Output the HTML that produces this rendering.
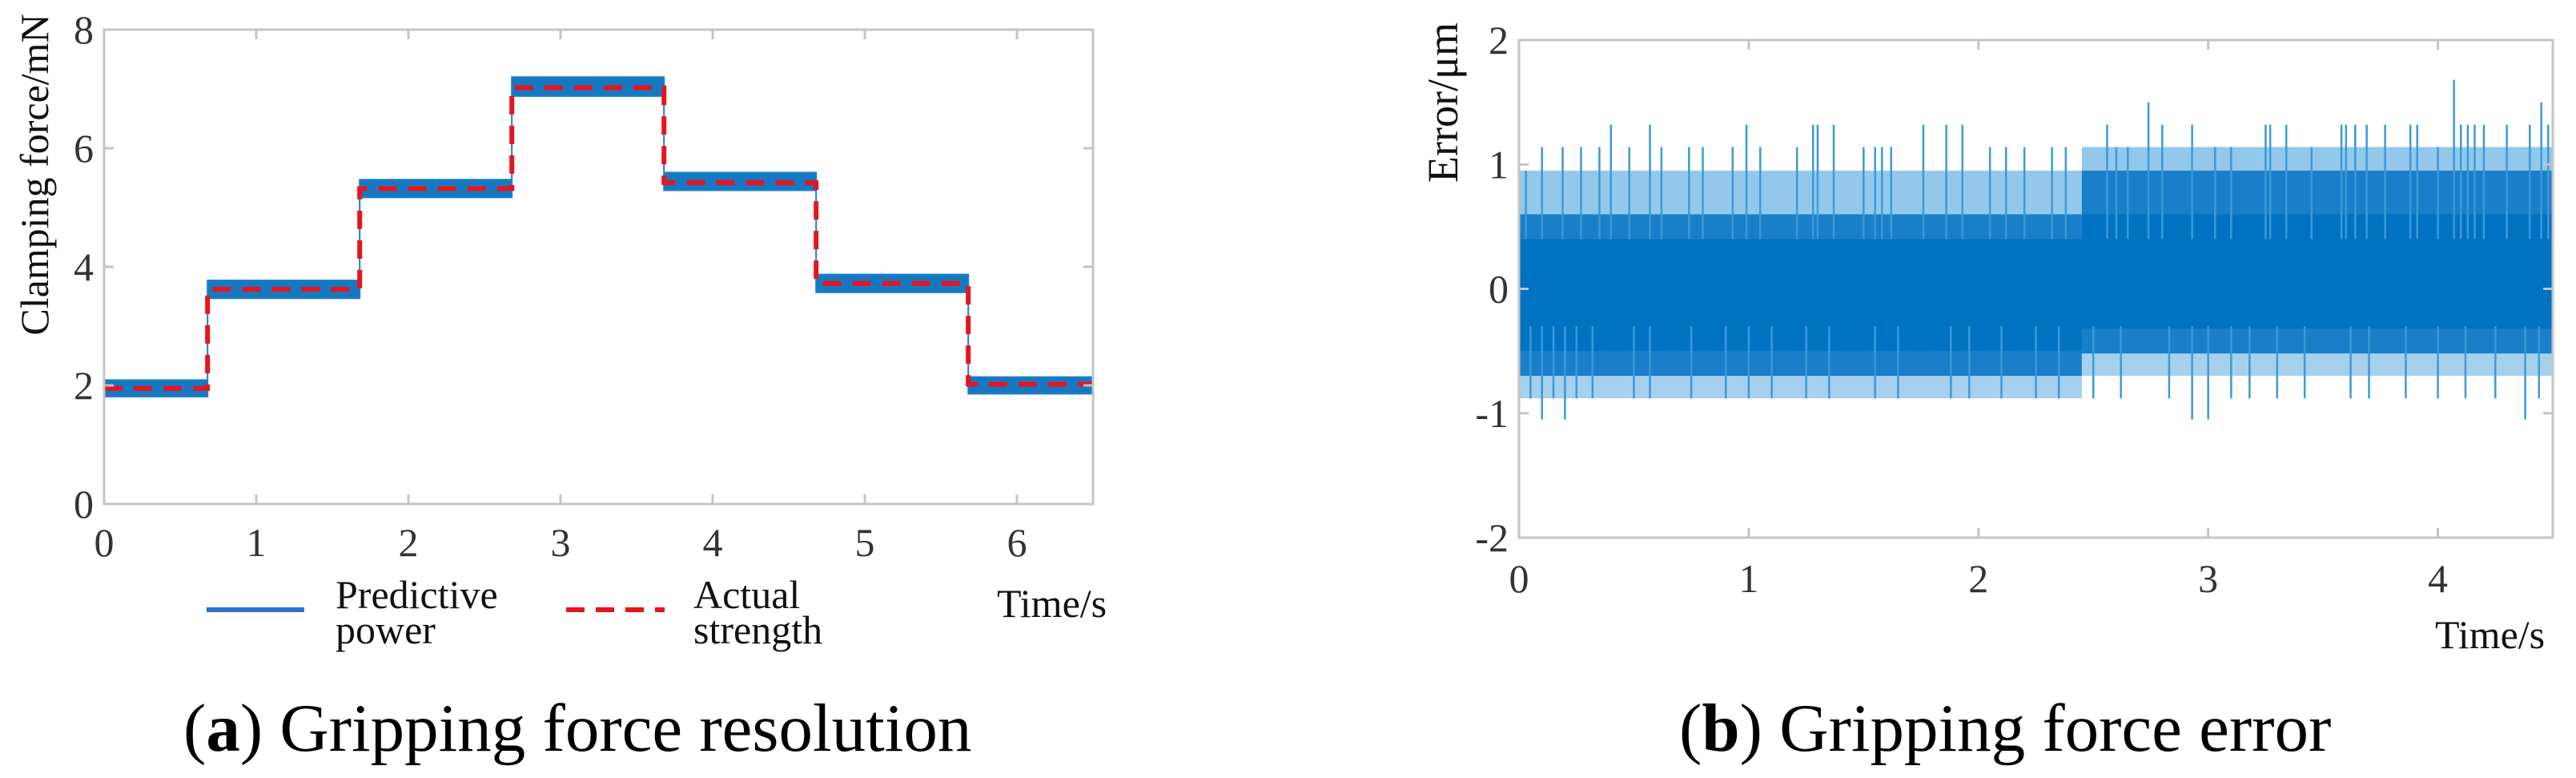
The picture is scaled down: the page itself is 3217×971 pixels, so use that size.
<!DOCTYPE html>
<html><head><meta charset="utf-8"><style>
html,body{margin:0;padding:0;background:#fff;}
svg{display:block;}
text{font-family:"Liberation Serif",serif;}
</style></head><body>
<svg id="fig" width="3217" height="971" viewBox="0 0 3217 971" xmlns="http://www.w3.org/2000/svg">
<g id="ga"></g>
<g id="gb"></g>
<text x="0" y="0" transform="translate(60,218) rotate(-90)" text-anchor="middle" font-size="50" fill="#111">Clamping force/mN</text>
<text x="1245" y="770" font-size="50" fill="#111">Time/s</text>
<line x1="258" y1="761" x2="380" y2="761" stroke="#2a70d0" stroke-width="6"/>
<text x="419" y="759" font-size="50" fill="#111">Predictive</text>
<text x="419" y="803" font-size="50" fill="#111">power</text>
<line x1="707" y1="761" x2="830" y2="761" stroke="#e8141c" stroke-width="6" stroke-dasharray="23,14"/>
<text x="866" y="759" font-size="50" fill="#111">Actual</text>
<text x="866" y="803" font-size="50" fill="#111">strength</text>
<text x="229" y="937" font-size="85" fill="#000">(<tspan font-weight="bold">a</tspan>) Gripping force resolution</text>
<text x="0" y="0" transform="translate(1820,128) rotate(-90)" text-anchor="middle" font-size="54" fill="#111">Error/μm</text>
<text x="3041" y="809" font-size="50" fill="#111">Time/s</text>
<text x="2097" y="937" font-size="85" fill="#000">(<tspan font-weight="bold">b</tspan>) Gripping force error</text>
</svg>
<script>
// ---- chart a data ----
const aStepStart = [0, 0.68, 1.68, 2.68, 3.68, 4.68, 5.68];
const aStepEnd   = [0.68, 1.68, 2.68, 3.68, 4.68, 5.68, 6.5];
const aActual    = [1.95, 3.62, 5.32, 7.02, 5.42, 3.72, 2.02];
const aPredicted = [1.95, 3.62, 5.32, 7.04, 5.44, 3.72, 2.0];
const aNoise     = [0.14, 0.15, 0.15, 0.16, 0.15, 0.15, 0.14];
const aXTicks = [0,1,2,3,4,5,6];
const aYTicks = [0,2,4,6,8];
// ---- chart b data ----
const bSegStart = [0, 2.45];
const bSegEnd   = [2.45, 4.5];
const bSolidLo  = [-0.5, -0.32];
const bSolidHi  = [0.4, 0.6];
const bDenseLo  = [-0.7, -0.52];
const bDenseHi  = [0.6, 0.95];
const bSparseLo = [-0.88, -0.7];
const bSparseHi = [0.95, 1.14];
const bUpTimes  = [0.03,0.1,0.19,0.27,0.35,0.4,0.48,0.57,0.62,0.74,0.8,0.93,0.99,1.05,1.21,1.28,1.3,1.37,1.5,1.55,1.58,1.62,1.76,1.86,1.93,2.05,2.12,2.2,2.32,2.38,2.56,2.6,2.65,2.74,2.8,2.93,3.03,3.1,3.25,3.27,3.34,3.45,3.58,3.6,3.64,3.69,3.77,3.88,3.91,4.0,4.07,4.1,4.13,4.16,4.2,4.3,4.4,4.45,4.48];
const bUpVals   = [0.95,1.14,1.14,1.14,1.14,1.32,1.14,1.32,1.14,1.14,1.14,1.14,1.32,1.14,1.14,1.32,1.32,1.32,1.14,1.14,1.14,1.14,1.32,1.32,1.32,1.14,1.14,1.14,1.14,1.14,1.32,1.14,1.14,1.5,1.32,1.32,1.14,1.14,1.32,1.32,1.32,1.14,1.32,1.32,1.32,1.32,1.32,1.32,1.32,1.14,1.68,1.32,1.32,1.32,1.32,1.32,1.32,1.5,1.32];
const bDnTimes  = [0.05,0.1,0.15,0.2,0.25,0.32,0.5,0.57,0.75,0.9,1.0,1.1,1.25,1.35,1.55,1.65,1.88,1.96,2.1,2.25,2.35,2.5,2.62,2.83,2.93,3.0,3.1,3.18,3.3,3.42,3.62,3.7,3.86,4.0,4.12,4.25,4.38,4.44];
const bDnVals   = [-0.88,-1.05,-0.88,-1.05,-0.88,-0.88,-0.88,-0.88,-0.88,-0.88,-0.88,-0.88,-0.88,-0.88,-0.88,-0.88,-0.88,-0.88,-0.88,-0.88,-0.88,-0.88,-0.88,-0.88,-1.05,-1.05,-0.88,-0.88,-0.88,-0.88,-0.88,-0.88,-0.88,-0.88,-0.88,-0.88,-1.05,-0.88];
const bXTicks = [0,1,2,3,4];
const bYTicks = [-2,-1,0,1,2];

const NS = "http://www.w3.org/2000/svg";
function mk(parent, tag, attrs){ const e=document.createElementNS(NS,tag); for(const k in attrs) e.setAttribute(k,attrs[k]); parent.appendChild(e); return e; }

// axes a
const axL=130, axR=1365, axT=37, axB=629;
const xa = t => axL + t*(axR-axL)/6.5;
const ya = v => axB - v*(axB-axT)/8;
const ga = document.getElementById('ga');
let bandTop='', bandBot='';
for(let i=0;i<aStepStart.length;i++){
  bandTop += (i?'L':'M')+xa(aStepStart[i])+','+ya(aPredicted[i]+aNoise[i])+'L'+xa(aStepEnd[i])+','+ya(aPredicted[i]+aNoise[i]);
}
for(let i=aStepStart.length-1;i>=0;i--){
  bandBot += 'L'+xa(aStepEnd[i])+','+ya(aPredicted[i]-aNoise[i])+'L'+xa(aStepStart[i])+','+ya(aPredicted[i]-aNoise[i]);
}
const band = mk(ga,'path',{d:bandTop+bandBot+'Z',fill:'#1778c2',stroke:'#1a80c8','stroke-width':2});


let ad='';
for(let i=0;i<aStepStart.length;i++){
  ad += (i?'L':'M')+xa(aStepStart[i])+','+ya(aActual[i])+'L'+xa(aStepEnd[i])+','+ya(aActual[i]);
}
const act = mk(ga,'path',{d:ad,fill:'none',stroke:'#e8141c','stroke-width':6,'stroke-dasharray':'23,14'});


const frA = mk(ga,'rect',{x:axL,y:axT,width:axR-axL,height:axB-axT,fill:'none',stroke:'#c4c4c4','stroke-width':3});


aXTicks.forEach(t=>{
  mk(ga,'line',{x1:xa(t),y1:axB,x2:xa(t),y2:axB-12,stroke:'#c4c4c4','stroke-width':3});
  mk(ga,'line',{x1:xa(t),y1:axT,x2:xa(t),y2:axT+12,stroke:'#c4c4c4','stroke-width':3});
  const tx = mk(ga,'text',{x:xa(t),y:694,'text-anchor':'middle','font-size':50,fill:'#333'});
  tx.textContent=t;
  
  
});
aYTicks.forEach(v=>{
  mk(ga,'line',{x1:axL,y1:ya(v),x2:axL+12,y2:ya(v),stroke:'#c4c4c4','stroke-width':3});
  mk(ga,'line',{x1:axR,y1:ya(v),x2:axR-12,y2:ya(v),stroke:'#c4c4c4','stroke-width':3});
  const tx = mk(ga,'text',{x:117,y:ya(v)+17,'text-anchor':'end','font-size':50,fill:'#333'});
  tx.textContent=v;
  
  
});

// axes b
const bL=1897, bR=3188, bT=50, bB=671;
const xb = t => bL + t*(bR-bL)/4.5;
const yb = v => bB - (v+2)*(bB-bT)/4;
const gb = document.getElementById('gb');
const BLUE='#0072c2', LIGHT='#3a9ad8';
for(let i=0;i<bSegStart.length;i++){
  const x0=xb(bSegStart[i]), w=xb(bSegEnd[i])-x0;
  const r1=mk(gb,'rect',{x:x0,y:yb(bSparseHi[i]),width:w,height:yb(bDenseHi[i])-yb(bSparseHi[i]),fill:LIGHT,opacity:0.55});
  
  
  const r2=mk(gb,'rect',{x:x0,y:yb(bDenseLo[i]),width:w,height:yb(bSparseLo[i])-yb(bDenseLo[i]),fill:LIGHT,opacity:0.45});
  
  
  const r3=mk(gb,'rect',{x:x0,y:yb(bDenseHi[i]),width:w,height:yb(bDenseLo[i])-yb(bDenseHi[i]),fill:'#0674c4',opacity:0.92});
  
  
  const r4=mk(gb,'rect',{x:x0,y:yb(bSolidHi[i]),width:w,height:yb(bSolidLo[i])-yb(bSolidHi[i]),fill:BLUE});
  
  
}
bUpTimes.forEach((t,i)=>{
  const l=mk(gb,'line',{x1:xb(t),y1:yb(0.4),x2:xb(t),y2:yb(bUpVals[i]),stroke:LIGHT,'stroke-width':2.5});
  
  
});
bDnTimes.forEach((t,i)=>{
  const l=mk(gb,'line',{x1:xb(t),y1:yb(-0.3),x2:xb(t),y2:yb(bDnVals[i]),stroke:LIGHT,'stroke-width':2.5});
  
  
});
const frB = mk(gb,'rect',{x:bL,y:bT,width:bR-bL,height:bB-bT,fill:'none',stroke:'#c4c4c4','stroke-width':3});


bXTicks.forEach(t=>{
  mk(gb,'line',{x1:xb(t),y1:bB,x2:xb(t),y2:bB-12,stroke:'#c4c4c4','stroke-width':3});
  mk(gb,'line',{x1:xb(t),y1:bT,x2:xb(t),y2:bT+12,stroke:'#c4c4c4','stroke-width':3});
  const tx = mk(gb,'text',{x:xb(t),y:739,'text-anchor':'middle','font-size':50,fill:'#333'});
  tx.textContent=t;
  
  
});
bYTicks.forEach(v=>{
  mk(gb,'line',{x1:bL,y1:yb(v),x2:bL+12,y2:yb(v),stroke:'#c4c4c4','stroke-width':3});
  mk(gb,'line',{x1:bR,y1:yb(v),x2:bR-12,y2:yb(v),stroke:'#c4c4c4','stroke-width':3});
  const tx = mk(gb,'text',{x:1884,y:yb(v)+17,'text-anchor':'end','font-size':50,fill:'#333'});
  tx.textContent=v;
  
  
});
</script>
</body></html>
